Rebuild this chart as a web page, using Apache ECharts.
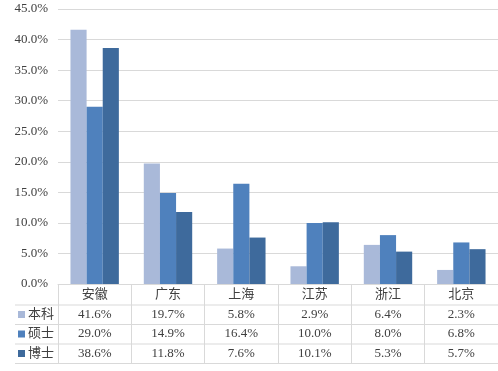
<!DOCTYPE html>
<html><head><meta charset="utf-8">
<script src="https://cdn.jsdelivr.net/npm/echarts@6/dist/echarts.min.js"></script>
<style>html,body{margin:0;padding:0;background:#fff}#c{width:498px;height:371px}</style>
</head><body><div id="c"></div>
<script>
var categories = ['安徽','广东','上海','江苏','浙江','北京'];
var seriesNames = ['本科','硕士','博士'];
var benke = [41.6, 19.7, 5.8, 2.9, 6.4, 2.3];
var shuoshi = [29.0, 14.9, 16.4, 10.0, 8.0, 6.8];
var boshi = [38.6, 11.8, 7.6, 10.1, 5.3, 5.7];
var yTicks = {min: 0, max: 45, interval: 5};

var values = [benke, shuoshi, boshi];
var colors = ['#A9B9D9', '#4F81BD', '#3E6A9C'];
var FONT = "'Liberation Serif', 'Noto Sans CJK SC', serif";
var TXT = '#404040';
var LINE = '#d9d9d9';
var fmt = function (v) { return v.toFixed(1) + '%'; };

var xAxes = [{
  type: 'category', data: categories, position: 'bottom', offset: 0,
  axisLine: {show: true, lineStyle: {color: LINE}},
  axisTick: {show: true, alignWithLabel: false, interval: 0, length: 80, lineStyle: {color: LINE}},
  axisLabel: {margin: 4, fontSize: 13, fontFamily: FONT, color: TXT, interval: 0}
}];
var margins = [24, 43.5, 63];
values.forEach(function (arr, k) {
  xAxes.push({
    type: 'category', data: categories, position: 'bottom', offset: 0,
    axisLine: {show: false}, axisTick: {show: false}, splitLine: {show: false},
    axisLabel: {margin: margins[k], fontSize: 13, fontFamily: FONT, color: TXT, interval: 0,
      formatter: function (v, i) { return fmt(arr[i]); }}
  });
});

var rowLines = [305, 324.5, 344, 363.5].map(function (y) {
  return {type: 'line', shape: {x1: 15, y1: y, x2: 498, y2: y}, style: {stroke: LINE, lineWidth: 1}, silent: true};
});

var chart = echarts.init(document.getElementById('c'));
chart.setOption({
  animation: false,
  color: colors,
  grid: {left: 58, right: 0, top: 9, bottom: 87, containLabel: false},
  legend: {
    orient: 'vertical', left: 18, top: 308, padding: 0, itemGap: 6.5,
    icon: 'rect', itemWidth: 7, itemHeight: 7,
    textStyle: {fontSize: 13, lineHeight: 13, fontFamily: FONT, color: TXT, padding: [0, 0, 0, -2]},
    data: seriesNames
  },
  xAxis: xAxes,
  yAxis: {
    type: 'value', min: yTicks.min, max: yTicks.max, interval: yTicks.interval,
    axisLine: {show: false}, axisTick: {show: false},
    splitLine: {lineStyle: {color: LINE}},
    axisLabel: {margin: 10, fontSize: 13, fontFamily: FONT, color: TXT, formatter: fmt}
  },
  graphic: rowLines,
  series: values.map(function (arr, k) {
    return {name: seriesNames[k], type: 'bar', data: arr, xAxisIndex: 0,
      barGap: '0%', barCategoryGap: '34%'};
  })
});
</script></body></html>
